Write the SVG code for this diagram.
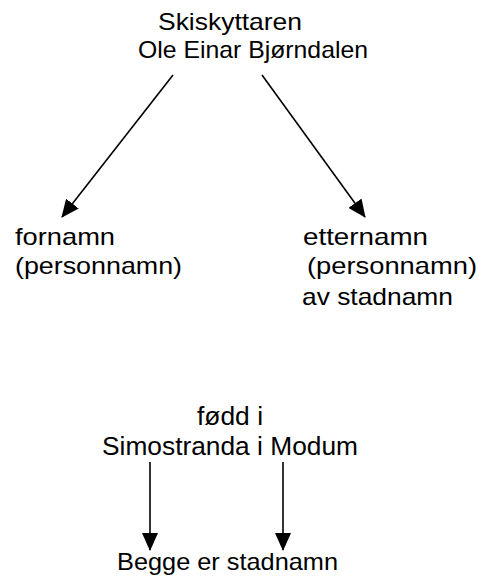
<svg xmlns="http://www.w3.org/2000/svg" width="479" height="578" viewBox="0 0 479 578">
<style>
.c{font-family:"Liberation Sans",Arial,sans-serif;font-size:24px;fill:#000}
.a{font-family:"Liberation Sans",Arial,sans-serif;font-size:25px;fill:#000}
.e{stroke:#000;stroke-width:1.6;fill:none}
</style>
<defs>
<marker id="ah" markerUnits="userSpaceOnUse" markerWidth="18" markerHeight="16" viewBox="0 0 18 16" refX="17" refY="8" orient="auto">
<path d="M0,0 L18,8 L0,16 Z" fill="#000"/>
</marker>
</defs>
<rect width="479" height="578" fill="#fff"/>
<g id="connectors">
<line class="e" x1="173" y1="75" x2="62" y2="217" marker-end="url(#ah)"/>
<line class="e" x1="262" y1="75" x2="365" y2="217" marker-end="url(#ah)"/>
<line class="e" x1="150" y1="462" x2="150" y2="550" marker-end="url(#ah)"/>
<line class="e" x1="283" y1="462" x2="283" y2="550" marker-end="url(#ah)"/>
</g>
<g id="skiskyttaren">
<text class="c" x="158" y="30" textLength="144" lengthAdjust="spacingAndGlyphs">Skiskyttaren</text>
<text class="c" x="138" y="58" textLength="230" lengthAdjust="spacingAndGlyphs">Ole Einar Bjørndalen</text>
</g>
<g id="fornamn">
<text class="c" x="15" y="245" textLength="100" lengthAdjust="spacingAndGlyphs">fornamn</text>
<text class="c" x="15" y="274" textLength="167" lengthAdjust="spacingAndGlyphs">(personnamn)</text>
</g>
<g id="etternamn">
<text class="c" x="303" y="245" textLength="125" lengthAdjust="spacingAndGlyphs">etternamn</text>
<text class="c" x="307" y="274" textLength="170" lengthAdjust="spacingAndGlyphs">(personnamn)</text>
<text class="c" x="302" y="305" textLength="151" lengthAdjust="spacingAndGlyphs">av stadnamn</text>
</g>
<g id="fodd">
<text class="a" x="197" y="425" textLength="66" lengthAdjust="spacingAndGlyphs">fødd i</text>
<text class="a" x="102" y="455" textLength="256" lengthAdjust="spacingAndGlyphs">Simostranda i Modum</text>
</g>
<g id="begge">
<text class="c" x="117" y="570" textLength="221" lengthAdjust="spacingAndGlyphs">Begge er stadnamn</text>
</g>
</svg>
